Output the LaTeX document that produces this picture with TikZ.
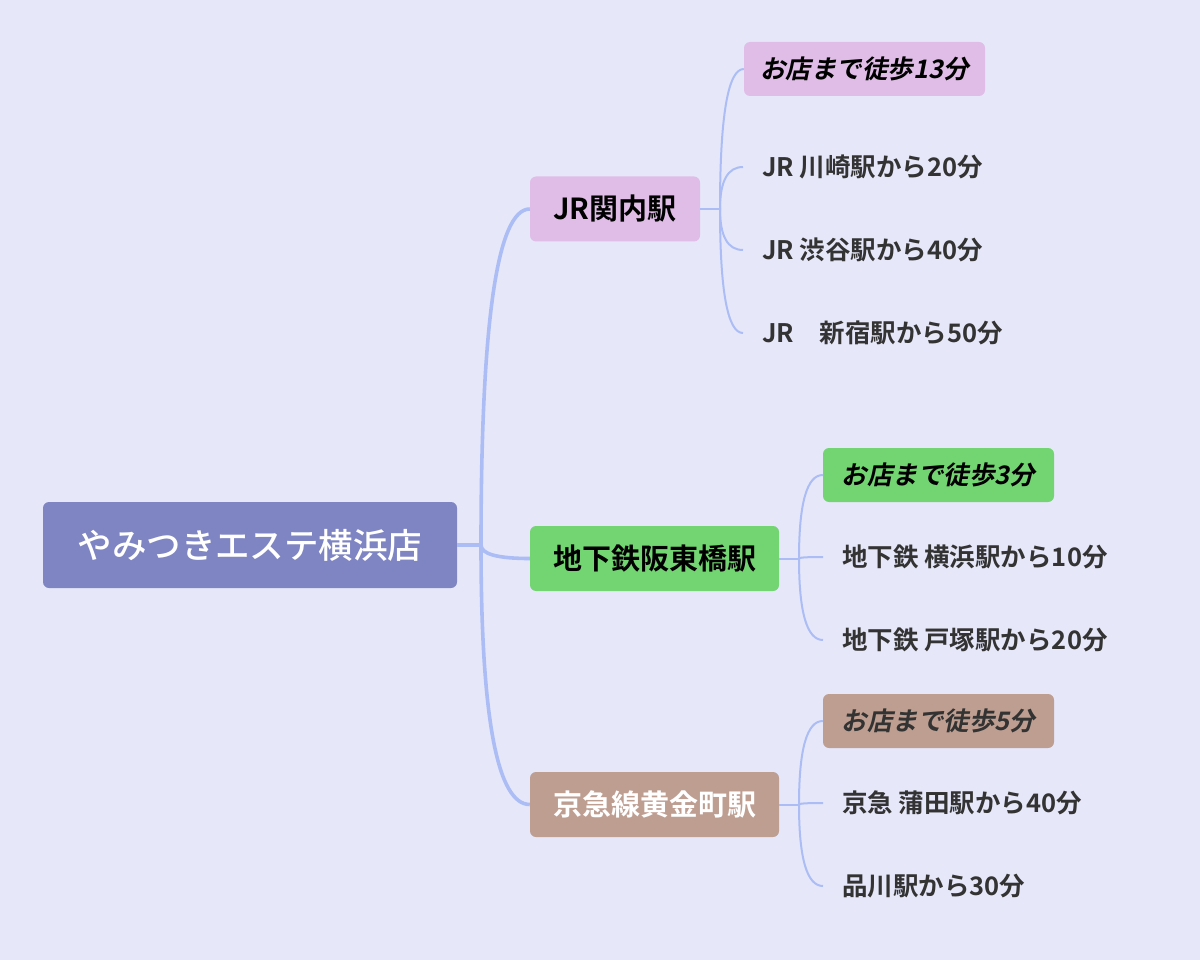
\documentclass[tikz,border=0pt]{standalone}
\usepackage{fontspec}
\setmainfont{Noto Sans CJK JP Medium}[BoldFont={Noto Sans CJK JP Bold}]
\newfontfamily\walkfont{Noto Sans CJK JP Bold}[FakeSlant=0.2]
\usetikzlibrary{positioning,calc}
\definecolor{bgc}{HTML}{E6E8FA}
\definecolor{linec}{HTML}{ABBDF4}
\definecolor{rootc}{HTML}{7F85C3}
\definecolor{jrc}{HTML}{E0BDE7}
\definecolor{subc}{HTML}{72D572}
\definecolor{kqc}{HTML}{BE9E91}
\definecolor{txtc}{HTML}{333333}

\begin{document}
\begin{tikzpicture}[x=1pt,y=-1pt]
            \tikzstyle{box}=[rounded corners=6pt, inner sep=0pt]
            \tikzstyle{rootbox}=[box, fill=rootc, text=white,
            minimum width=414pt, minimum height=86pt,
            font=\fontsize{34.5}{40}\selectfont]
            \tikzstyle{stbox}=[box, minimum height=65pt,
            font=\bfseries\fontsize{29}{34}\selectfont]
            \tikzstyle{walk}=[box, minimum height=54pt,
            font=\walkfont\fontsize{25.5}{30}\selectfont]
            \tikzstyle{leaf}=[anchor=west, inner xsep=19pt, text=txtc,
            font=\bfseries\fontsize{25.5}{30}\selectfont]
            \tikzstyle{trunk}=[draw=linec, line width=3.6pt]
            \tikzstyle{twig}=[draw=linec, line width=2pt]
            \fill[bgc] (0,0) rectangle (1200,960);
            \useasboundingbox (0,0) rectangle (1200,960);
            % centre
            \node[rootbox] (root) at (250,545) {やみつきエステ横浜店};
            % stations
            \node[stbox, fill=jrc, minimum width=170pt] (jr) at (615,209) {JR関内駅};
            \node[stbox, fill=subc, minimum width=249pt] (sub) at (654.5,558.5) {地下鉄阪東橋駅};
            \node[stbox, fill=kqc, text=white, minimum width=249pt] (kq) at (654.5,804.5) {京急線黄金町駅};
            % JR leaves
            \node[walk, fill=jrc, minimum width=241pt] (jrw) at (864.5,69) {お店まで徒歩13分};
            \node[leaf] (jra) at (743,167) {JR 川崎駅から20分};
            \node[leaf] (jrb) at (743,250) {JR 渋谷駅から40分};
            \node[leaf] (jrc) at (743,333) {JR　新宿駅から50分};
            % subway leaves
            \node[walk, fill=subc, minimum width=231pt] (subw) at (938.5,475) {お店まで徒歩3分};
            \node[leaf] (suba) at (823,557) {地下鉄 横浜駅から10分};
            \node[leaf] (subb) at (823,640) {地下鉄 戸塚駅から20分};
            % keikyu leaves
            \node[walk, fill=kqc, text=txtc, minimum width=231pt] (kqw) at (938.5,721) {お店まで徒歩5分};
            \node[leaf] (kqa) at (823,803) {京急 蒲田駅から40分};
            \node[leaf] (kqb) at (823,886) {品川駅から30分};
            % forks
            \coordinate (rf) at (481,545);
            \coordinate (jrf) at (720,209);
            \coordinate (subf) at (799,558.5);
            \coordinate (kqf) at (799,804.5);
            % connectors
            \path[trunk] (root.east) -- (rf);
            \foreach \s in {jr,sub,kq}
              \path[trunk] (rf) .. controls ($(rf)!2/3!(rf |- \s.west)$)
                and ($(\s.west)!2/3!(rf |- \s.west)$) .. (\s.west);
            \path[twig] (jr.east) -- (jrf);
            \foreach \l in {jrw,jra,jrb,jrc}
              \path[twig] (jrf) .. controls ($(jrf)!2/3!(jrf |- \l.west)$)
                and ($(\l.west)!2/3!(jrf |- \l.west)$) .. (\l.west);
            \path[twig] (sub.east) -- (subf);
            \foreach \l in {subw,suba,subb}
              \path[twig] (subf) .. controls ($(subf)!2/3!(subf |- \l.west)$)
                and ($(\l.west)!2/3!(subf |- \l.west)$) .. (\l.west);
            \path[twig] (kq.east) -- (kqf);
            \foreach \l in {kqw,kqa,kqb}
              \path[twig] (kqf) .. controls ($(kqf)!2/3!(kqf |- \l.west)$)
                and ($(\l.west)!2/3!(kqf |- \l.west)$) .. (\l.west);
        \end{tikzpicture}
\end{document}
